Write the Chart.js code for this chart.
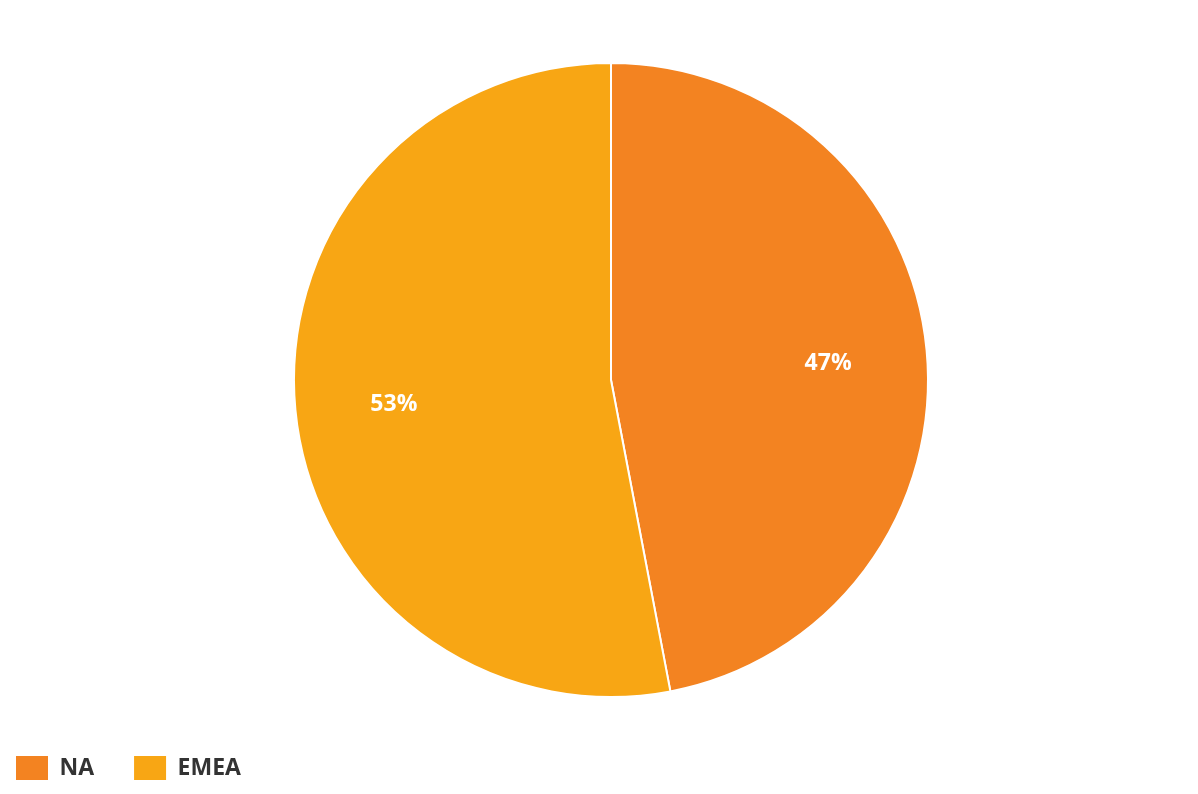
<!DOCTYPE html>
<html>
<head>
<meta charset="utf-8">
<script src="https://cdn.jsdelivr.net/npm/chart.js@4"></script>
<style>
    html, body { margin: 0; padding: 0; background: #fff; }
    #wrap { width: 1198px; height: 794px; }
</style>
</head>
<body>
<div id="wrap"><canvas id="regionChart"></canvas></div>
<script>
// Chart data
const regions = ['NA', 'EMEA'];
const shares = [47, 53];
const sliceColors = ['#F38321', '#F8A614'];

const legendPad = 40;

// Draws the % labels inside each slice
const sliceLabels = {
    id: 'sliceLabels',
    afterDatasetsDraw(chart) {
        const ctx = chart.ctx;
        const meta = chart.getDatasetMeta(0);
        const total = shares.reduce((a, b) => a + b, 0);
        ctx.save();
        ctx.font = 'bold 23px "Open Sans"';
        ctx.fillStyle = '#fff';
        ctx.textAlign = 'center';
        ctx.textBaseline = 'middle';
        meta.data.forEach((arc, i) => {
            const p = arc.getProps(['x', 'y', 'startAngle', 'endAngle', 'outerRadius']);
            const mid = (p.startAngle + p.endAngle) / 2;
            const r = p.outerRadius * 0.688;
            const pct = Math.round(shares[i] / total * 100) + '%';
            ctx.fillText(pct, p.x + Math.cos(mid) * r, p.y + Math.sin(mid) * r + 3.5);
        });
        ctx.restore();
    }
};

// Pull the legend back to the left edge
const legendShift = {
    id: 'legendShift',
    afterLayout(chart) {
        chart.legend.left = 16 - legendPad;
    }
};

new Chart(document.getElementById('regionChart'), {
    type: 'pie',
    data: {
        labels: regions,
        datasets: [{
            data: shares,
            backgroundColor: sliceColors,
            borderColor: '#fff',
            borderWidth: 2
        }]
    },
    options: {
        responsive: true,
        maintainAspectRatio: false,
        animation: false,
        layout: { padding: { top: 62, bottom: 4, left: 24, right: 0 } },
        plugins: {
            tooltip: { enabled: false },
            legend: {
                position: 'bottom',
                align: 'start',
                title: { display: true, text: '', padding: 0, font: { size: 10, lineHeight: 1.8 } },
                labels: {
                    boxWidth: 32,
                    boxHeight: 24,
                    padding: legendPad,
                    color: '#333',
                    font: { family: '"Open Sans"', size: 23, weight: 'bold' },
                    generateLabels(chart) {
                        const items = Chart.overrides.pie.plugins.legend.labels.generateLabels(chart);
                        return items.map(it => Object.assign(it, { lineWidth: 0 }));
                    }
                }
            }
        }
    },
    plugins: [sliceLabels, legendShift]
});
</script>
</body>
</html>
